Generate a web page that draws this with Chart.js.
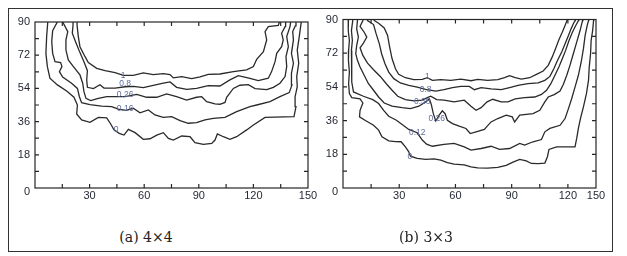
<!DOCTYPE html>
<html><head><meta charset="utf-8">
<script src="https://cdn.jsdelivr.net/npm/chart.js@4.4.1/dist/chart.umd.min.js"></script>
<style>
html,body{margin:0;padding:0;background:#fff;}
#wrap{position:relative;width:627px;height:256px;background:#fff;overflow:hidden;}
#frame{position:absolute;left:8px;top:8px;width:605px;height:244px;border:1.5px solid #333;box-sizing:border-box;pointer-events:none;}
.cv{position:absolute;top:0;}
.cap{position:absolute;top:228px;width:120px;text-align:center;font:14px "DejaVu Serif",serif;color:#222;line-height:18px;}
</style></head>
<body><div id="wrap">
<canvas id="ca" class="cv" width="320" height="215" style="left:0;width:320px;height:215px"></canvas>
<canvas id="cb" class="cv" width="300" height="215" style="left:318px;width:300px;height:215px"></canvas>
<div class="cap" style="left:86px">(a) 4×4</div>
<div class="cap" style="left:366px">(b) 3×3</div>
<div id="frame"></div>
</div>
<script>
// ---------- Panel (a) 4x4 : contour lines [x, y] ----------
const a_level1 = [[23.1,90],[23.1,88.4],[23.8,82.1],[24.7,76.6],[27.5,71.2],[29.3,68.0],[33.9,64.9],[38.5,63.6],[44.0,62.5],[48.5,61.1],[54.0,61.1],[59.5,62.4],[65.0,61.5],[70.5,62.0],[74.2,61.5],[76.0,59.7],[80.6,60.4],[86.1,59.3],[90.7,60.2],[95.2,61.6],[101.6,61.8],[109.0,63.1],[116.3,64.0],[120.0,65.8],[121.8,69.8],[125.5,73.9],[127.3,80.3],[126.4,84.8],[128.2,87.5],[133.7,88.2],[134.3,90]];
const a_level08 = [[20.9,90],[20.9,88.4],[20.5,83.9],[22.5,78.8],[24.7,73.4],[26.9,68.5],[28.8,63.6],[28.4,58.6],[28.8,54.6],[32.1,53.9],[35.7,56.0],[37.9,54.2],[44.0,54.2],[49.5,54.9],[54.0,55.1],[59.5,54.4],[65.0,55.7],[70.5,56.8],[74.2,57.5],[77.8,54.6],[83.3,53.5],[88.8,54.0],[95.2,55.5],[101.6,55.3],[107.1,58.6],[111.7,60.9],[118.1,59.5],[122.7,58.2],[128.2,59.5],[130.0,63.1],[131.9,68.5],[132.8,73.0],[135.5,76.6],[136.4,80.3],[135.5,83.9],[137.4,87.5],[137.7,90]];
const a_level026 = [[15.4,90],[15.4,89.7],[18.0,84.8],[17.0,80.3],[17.0,74.8],[18.3,69.4],[21.1,65.8],[24.7,61.3],[26.2,56.8],[26.9,52.2],[28.0,48.6],[30.6,47.4],[34.8,48.6],[39.4,49.5],[44.0,49.5],[49.5,49.5],[55.9,50.8],[61.4,49.2],[66.9,49.2],[72.3,51.0],[77.8,49.5],[83.3,47.7],[88.8,49.2],[91.6,49.5],[94.3,46.8],[98.9,45.6],[101.6,45.4],[104.4,46.4],[105.3,49.2],[109.0,54.0],[112.6,55.7],[117.2,56.0],[120.9,53.9],[127.3,53.3],[131.0,54.6],[134.6,56.8],[137.4,60.4],[138.3,65.8],[137.9,71.2],[139.2,76.6],[138.3,82.1],[140.1,87.5],[140.5,90]];
const a_level016 = [[12.1,90],[12.1,89.7],[9.7,85.3],[9.2,79.4],[9.7,73.0],[11.0,68.5],[14.1,68.0],[14.8,65.8],[13.4,63.1],[15.2,60.1],[20.1,56.8],[23.3,54.0],[24.4,49.5],[25.6,46.3],[30.2,45.2],[36.6,44.4],[42.1,44.1],[45.8,42.8],[50.0,42.1],[54.0,43.2],[57.7,40.8],[62.3,42.3],[65.9,39.6],[70.5,38.3],[75.1,38.7],[79.7,36.5],[84.2,35.1],[88.8,35.4],[93.4,36.9],[98.0,37.8],[104.4,38.3],[110.8,41.4],[118.1,44.1],[121.8,45.0],[129.1,46.8],[134.6,49.5],[139.7,51.7],[141.2,55.9],[140.9,62.2],[142.0,67.6],[140.9,73.0],[142.0,80.3],[141.6,84.8],[143.0,87.9],[143.4,90]];
const a_level0 = [[7.0,90],[7.0,89.7],[6.4,82.1],[6.0,73.0],[6.8,65.8],[8.2,59.5],[12.3,55.9],[17.4,52.6],[21.4,49.2],[23.3,45.0],[22.9,40.1],[25.6,36.9],[30.2,35.6],[34.8,38.3],[39.4,38.0],[41.6,34.7],[43.4,31.5],[46.3,29.6],[48.9,28.7],[51.3,31.8],[55.0,30.0],[59.5,26.4],[63.2,26.7],[66.9,28.7],[70.5,30.0],[73.3,26.9],[76.0,26.0],[80.6,28.2],[85.2,27.8],[87.9,24.6],[92.5,23.7],[97.1,24.2],[98.9,26.0],[100.2,29.3],[103.5,27.8],[107.1,26.4],[110.8,27.8],[116.3,31.5],[120.0,34.2],[126.4,38.3],[142.3,38.7],[143.4,44.1],[142.9,49.5],[144.1,54.9],[143.8,60.4],[144.9,67.6],[144.1,74.8],[145.2,82.1],[146.0,87.9],[146.3,90]];
const a_labelText = ['1','0.8','0.26','0.16','0'];
const a_labelX = [48.4,49.5,49.5,49.5,44.5];
const a_labelY = [60.7,56.6,50.4,42.8,31.5];
const a_xTickValues = [30,60,90,120,150];
const a_xTickLabels = ['30','60','90','120','150'];

// ---------- Panel (b) 3x3 ----------
const b_level1 = [[16.5,90],[16.7,89.4],[19.0,88.0],[22.0,85.5],[23.8,81.5],[24.9,75.3],[26.2,69.0],[28.0,63.7],[29.7,60.7],[33.3,58.9],[37.8,57.9],[42.3,58.0],[45.0,58.9],[47.7,57.5],[52.2,57.9],[57.5,57.5],[62.9,58.2],[68.3,57.3],[71.9,58.0],[77.2,57.5],[82.6,57.9],[86.2,58.9],[88.9,60.0],[91.9,58.9],[95.2,58.2],[99.6,58.9],[103.2,60.7],[106.8,62.5],[109.5,65.5],[111.6,69.9],[113.4,74.4],[115.2,79.2],[117.0,83.2],[118.5,86.8],[119.5,89.4],[119.8,90]];
const b_level08 = [[13.0,90],[13.1,89.4],[16.3,87.3],[17.7,82.3],[19.4,77.0],[20.6,71.7],[22.4,66.4],[24.4,61.9],[27.1,58.4],[30.6,56.1],[35.1,54.8],[39.6,53.9],[44.1,52.7],[49.5,51.8],[53.9,52.5],[58.4,53.6],[62.9,54.3],[67.4,54.3],[70.1,52.5],[73.7,53.6],[79.0,52.9],[84.4,52.5],[88.9,53.6],[93.4,54.8],[98.7,55.7],[104.1,56.1],[107.7,57.5],[110.4,59.6],[112.5,63.7],[114.5,68.2],[116.7,72.6],[118.5,77.0],[120.3,81.5],[121.7,85.0],[122.9,87.7],[123.8,89.4],[124.0,90]];
const b_level038 = [[10.6,90],[10.6,89.4],[9.1,86.3],[11.3,83.2],[12.7,80.6],[10.9,77.4],[9.1,74.9],[10.6,70.8],[13.1,66.7],[16.3,63.2],[19.9,59.6],[23.1,55.7],[26.2,52.2],[29.2,49.0],[33.3,47.2],[37.8,46.5],[42.3,46.9],[45.0,48.3],[46.8,49.0],[50.0,47.2],[53.9,46.9],[59.3,46.0],[64.7,46.9],[68.3,43.7],[71.0,41.5],[73.7,42.9],[76.9,46.0],[79.9,47.4],[84.4,46.0],[88.0,46.0],[91.9,47.6],[96.9,48.3],[102.3,48.6],[105.9,50.0],[108.6,52.2],[110.9,55.7],[113.1,60.2],[115.2,64.6],[117.0,69.0],[118.8,73.5],[120.6,78.8],[122.4,83.2],[124.2,86.8],[125.6,89.4],[125.8,90]];
const b_level026 = [[7.7,90],[7.7,89.4],[7.3,85.0],[8.2,80.6],[7.3,76.1],[6.8,71.7],[7.7,68.2],[9.1,64.6],[11.3,60.2],[13.6,55.7],[16.3,52.2],[19.0,48.6],[22.0,45.4],[26.2,43.7],[31.5,42.9],[36.0,42.4],[40.5,43.7],[44.1,46.0],[46.1,47.6],[47.1,44.7],[48.2,39.7],[49.5,35.8],[51.3,38.9],[53.0,41.2],[54.5,39.7],[55.7,36.2],[58.4,34.4],[62.0,33.0],[65.6,31.8],[67.9,29.1],[71.0,30.0],[75.4,31.3],[79.0,35.3],[82.6,37.1],[87.1,38.9],[90.3,38.0],[91.6,35.3],[94.3,38.9],[101.4,39.7],[105.0,41.5],[107.7,46.0],[109.5,48.6],[112.7,49.9],[115.8,51.8],[117.6,55.4],[119.4,60.2],[121.1,65.5],[122.9,71.7],[124.7,77.9],[126.5,84.1],[127.8,89.4],[128.0,90]];
const b_level012 = [[5.2,90],[5.2,89.4],[4.5,84.1],[5.0,78.8],[4.5,73.5],[4.5,68.2],[4.8,62.8],[4.7,56.6],[5.6,51.3],[10.9,49.0],[15.9,47.2],[19.0,45.1],[21.7,41.5],[24.4,38.3],[28.5,36.2],[32.1,33.5],[35.1,31.3],[39.6,29.5],[42.3,25.6],[44.6,23.4],[47.7,22.3],[53.9,23.3],[59.3,23.8],[64.7,22.0],[68.3,20.2],[73.7,21.1],[79.0,22.3],[83.5,20.6],[88.9,21.1],[94.3,23.8],[96.9,22.9],[101.4,24.7],[105.9,25.9],[107.7,30.0],[110.4,31.8],[115.8,33.5],[118.5,37.1],[120.3,42.4],[122.0,47.7],[123.8,53.9],[125.6,60.2],[127.1,67.3],[128.3,74.4],[129.2,81.5],[130.3,86.8],[131.0,89.4],[131.1,90]];
const b_level0 = [[2.9,90],[2.9,89.4],[2.7,84.1],[3.4,78.8],[3.0,73.5],[2.9,68.2],[3.4,61.9],[3.0,55.7],[3.4,50.4],[4.7,48.3],[9.1,47.6],[10.6,45.4],[9.1,41.5],[8.8,38.0],[12.4,35.8],[16.3,33.5],[19.0,30.9],[20.8,27.3],[24.4,25.2],[28.0,24.8],[31.0,24.7],[33.3,22.0],[35.1,19.3],[36.0,17.0],[39.6,15.8],[44.1,15.3],[48.6,15.6],[52.2,14.9],[55.7,13.5],[59.3,12.8],[64.7,12.4],[68.3,11.3],[71.9,10.8],[77.2,10.6],[82.6,11.0],[87.1,12.1],[90.7,13.8],[94.3,15.3],[97.8,14.5],[100.5,13.1],[104.1,13.0],[107.7,13.3],[109.1,16.7],[109.9,20.6],[114.0,22.0],[123.8,22.0],[124.7,26.5],[125.6,31.8],[126.7,37.1],[128.3,43.3],[129.9,50.4],[131.0,57.5],[131.4,64.6],[132.1,71.7],[132.4,78.8],[133.2,84.1],[133.7,89.4],[133.8,90]];
const b_labelText = ['1','0.8','0.38','0.26','0.12','0'];
const b_labelX = [45.0,44.1,42.3,50.0,39.6,35.7];
const b_labelY = [59.6,52.5,46.0,37.1,29.5,17.0];
const b_xTickValues = [30,60,90,120,135];
const b_xTickLabels = ['30','60','90','120','150'];

// ---------- shared axis ticks ----------
const yTickValues = [0,18,36,54,72,90];
const yTickLabels = ['0','18','36','54','72','90'];

Chart.defaults.font.family = '"Liberation Sans", Arial, sans-serif';

function range(step, from, to){ const r=[]; for(let v=from; v<=to+1e-9; v+=step) r.push(v); return r; }

function decorPlugin(cfg){
  return {
    id:'decor',
    afterDatasetsDraw(chart){
      const {ctx, chartArea:a, scales:{x,y}} = chart;
      ctx.save();
      ctx.strokeStyle='#262626'; ctx.lineWidth=1.2;
      ctx.strokeRect(a.left, a.top, a.right-a.left, a.bottom-a.top);
      ctx.beginPath();
      cfg.xMinor.forEach(v=>{const p=x.getPixelForValue(v); ctx.moveTo(p,a.bottom); ctx.lineTo(p,a.bottom-4); ctx.moveTo(p,a.top); ctx.lineTo(p,a.top+4);});
      cfg.yMinor.forEach(v=>{const p=y.getPixelForValue(v); ctx.moveTo(a.left,p); ctx.lineTo(a.left+4,p); ctx.moveTo(a.right,p); ctx.lineTo(a.right-4,p);});
      ctx.stroke();
      // corner "0" of the y axis, set slightly lower as in the original
      ctx.font='11px "Liberation Sans", Arial, sans-serif';
      ctx.fillStyle='#1f2430'; ctx.textAlign='right'; ctx.textBaseline='middle';
      ctx.fillText(yTickLabels[0], a.left-5, y.getPixelForValue(yTickValues[0])+4);
      ctx.font='8.5px "Liberation Sans", Arial, sans-serif';
      ctx.fillStyle='#5f6c9c'; ctx.textAlign='center'; ctx.textBaseline='middle';
      cfg.labels.forEach((t,i)=>ctx.fillText(t, x.getPixelForValue(cfg.lx[i]), y.getPixelForValue(cfg.ly[i])));
      ctx.restore();
    }
  };
}

function makeChart(id, series, xMax, xTicks, xLabels, pad, yWidth, labels, lx, ly, xMinor){
  new Chart(document.getElementById(id), {
    type:'scatter',
    data:{datasets: series.map(s=>({data:s.map(p=>({x:p[0],y:p[1]})), showLine:true, pointRadius:0, borderColor:'#2a2a2a', borderWidth:1.3, fill:false, tension:0}))},
    options:{
      responsive:false, animation:false, devicePixelRatio:1,
      layout:{padding:pad},
      plugins:{legend:{display:false}, tooltip:{enabled:false}},
      scales:{
        x:{type:'linear', min:0, max:xMax,
           afterBuildTicks:s=>{s.ticks = xTicks.map(v=>({value:v}));},
           afterFit:s=>{s.height = 215 - 188;},
           ticks:{autoSkip:false, maxRotation:0, padding:1, color:'#1f2430', font:{size:11}, callback:(v,i)=>xLabels[i]},
           grid:{display:false, drawTicks:false}, border:{display:false}},
        y:{type:'linear', min:0, max:90,
           afterBuildTicks:s=>{s.ticks = yTickValues.map(v=>({value:v}));},
           afterFit:s=>{s.width = yWidth;},
           ticks:{autoSkip:false, padding:5, color:'#1f2430', font:{size:11}, callback:(v,i)=>(i===0?'':yTickLabels[i])},
           grid:{display:false, drawTicks:false}, border:{display:false}}
      }
    },
    plugins:[decorPlugin({labels, lx, ly, xMinor, yMinor: range(9,9,81)})]
  });
}

makeChart('ca', [a_level1,a_level08,a_level026,a_level016,a_level0], 150, a_xTickValues, a_xTickLabels,
  {left:0, top:22, right:12, bottom:0}, 35, a_labelText, a_labelX, a_labelY, range(15,15,135));
makeChart('cb', [b_level1,b_level08,b_level038,b_level026,b_level012,b_level0], 135, b_xTickValues, b_xTickLabels,
  {left:0, top:19.5, right:22, bottom:0}, 25, b_labelText, b_labelX, b_labelY, range(15,15,120));
</script>
</body></html>
